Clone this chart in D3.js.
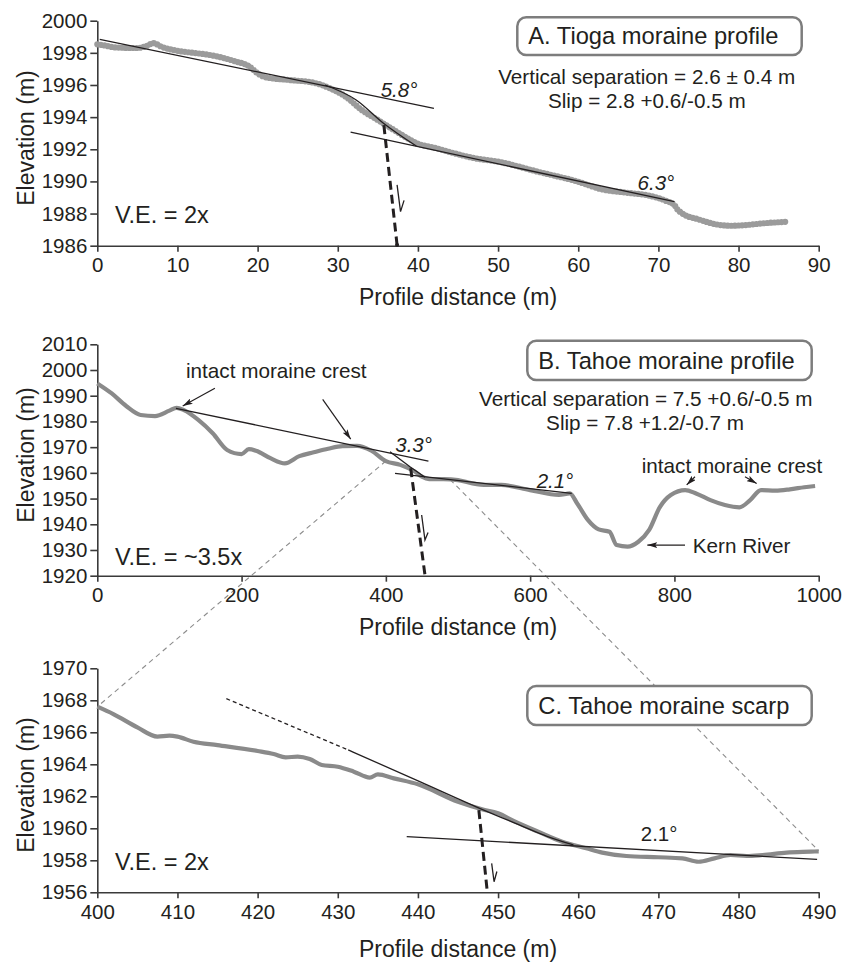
<!DOCTYPE html>
<html>
<head>
<meta charset="utf-8">
<script src="https://cdn.jsdelivr.net/npm/d3@7"></script>
<style>
    body { margin: 0; background: #fff; }
    svg { display: block; font-family: "Liberation Sans", Arial, Helvetica, sans-serif; }
    .axis path, .axis line { stroke: #3a3a3a; stroke-width: 1.6; fill: none; }
    .axis text { font-size: 20.5px; fill: #231f20; font-family: "Liberation Sans", Arial, sans-serif; }
    text { fill: #231f20; }
</style>
</head>
<body>
<div id="figure"></div>
<script>
/*
    三段断层崖地形剖面 (Tioga / Tahoe moraine)
 */

// ---- data: [distance (m), elevation (m)] ----
var tioga_profile = [[0,1998.53],[1,1998.45],[2,1998.35],[3,1998.32],[4,1998.3],[5,1998.3],[6,1998.4],[7,1998.6],
    [8,1998.38],[10,1998.13],[12,1998.0],[14,1997.87],[16,1997.65],[17,1997.5],[19,1997.14],[20,1996.73],
    [21,1996.48],[24,1996.31],[27,1996.14],[28,1996.0],[29,1995.8],[31,1995.27],[33,1994.44],[35,1993.82],
    [36,1993.51],[37,1993.2],[39,1992.6],[40,1992.35],[42,1992.1],[45,1991.69],[47,1991.45],[50,1991.23],
    [55,1990.6],[60,1989.98],[63,1989.5],[66,1989.3],[69,1989.1],[71,1988.78],[72,1988.53],[72.3,1988.3],
    [73,1988.0],[75,1987.64],[77,1987.35],[79,1987.24],[81,1987.29],[83,1987.39],[86,1987.49]];
var tioga_upper_fit = [[0.3,1998.84],[42,1994.55]];
var tioga_lower_fit = [[31.6,1993.06],[72,1988.74]];
var tioga_scarp_fit = [[28.4,1996.0],[32.3,1995.07],[35.7,1993.62],[39.8,1992.2]];
var tioga_fault = [[35.75,1993.5],[37.4,1986.04]];
var tioga_slip = [[37.4,1989.78],[37.83,1988.12],[38.27,1988.82]];

var tahoe_profile = [[0,1994.8],[20,1990.9],[40,1986.0],[60,1982.5],[80,1982.1],[100,1984.2],[110,1985.3],
    [120,1984.4],[140,1980.6],[160,1975.4],[180,1968.9],[200,1967.3],[210,1969.2],[220,1968.6],[240,1965.7],
    [260,1963.7],[280,1966.5],[300,1968.0],[320,1969.4],[340,1970.4],[360,1970.5],[380,1968.6],[400,1964.6],
    [420,1963.1],[440,1960.5],[450,1958.5],[460,1957.6],[480,1957.6],[500,1957.2],[520,1955.9],[540,1955.3],
    [560,1955.3],[600,1953.3],[640,1951.4],[655,1952],[665,1948.2],[680,1941.7],[695,1938],[710,1937.1],
    [720,1931.9],[735,1931.3],[750,1933.2],[765,1937.8],[780,1946.8],[795,1951.4],[815,1953.3],[830,1952],
    [850,1949.4],[870,1947.5],[890,1946.6],[905,1949.4],[920,1953.3],[940,1953.1],[960,1953.6],[980,1954.4],
    [995,1954.9]];
var tahoe_upper_fit = [[109,1985.1],[459,1964.6]];
var tahoe_lower_fit = [[412.7,1959.8],[657.6,1952]];
var tahoe_scarp_fit = [[405.7,1968.2],[433.4,1962.4],[454.3,1958.3]];
var tahoe_fault = [[434.4,1961.8],[454.2,1920.3]];
var tahoe_slip = [[449.6,1943.6],[454.2,1933.9],[458.5,1936.8]];
var tahoe_arrows = [
    [[163,1992.9],[118.4,1986.0]],
    [[312.4,1988.6],[351.3,1973.1]],
    [[828.5,1958.5],[817,1955.3]],
    [[897.8,1958.5],[914,1955.9]],
    [[814.7,1931.9],[762.4,1931.9]]
];

var scarp_profile = [[400,1967.6],[402,1967.14],[405,1966.31],[407.5,1965.73],[409,1965.79],[410,1965.73],
    [412,1965.41],[415,1965.2],[420,1964.83],[422,1964.64],[423.5,1964.43],[425,1964.48],[426.5,1964.33],
    [428,1963.96],[430,1963.85],[432,1963.54],[434,1963.17],[435,1963.37],[437,1963.12],[440,1962.75],
    [445,1961.66],[448,1961.19],[450,1960.94],[452,1960.45],[455,1959.79],[458,1959.16],[461,1958.75],
    [463,1958.48],[466,1958.27],[470,1958.19],[473,1958.12],[475,1957.91],[477,1958.12],[479,1958.33],
    [481,1958.27],[483,1958.33],[486,1958.48],[489,1958.54],[490,1958.56]];
var scarp_upper_dotted = [[416.1,1968.1],[431.3,1964.9]];
var scarp_upper_fit = [[431.3,1964.9],[440.3,1962.9],[447.7,1961.25],[452.7,1960.2],[456.1,1959.5],[459.4,1958.96]];
var scarp_lower_fit = [[438.6,1959.48],[489.8,1958.06]];
var scarp_fault = [[447.6,1961.14],[448.65,1956.04]];
var scarp_slip = [[449.2,1957.81],[449.5,1956.66],[449.85,1957.3]];

// zoom connector: point on profile B -> point on profile C
var zoom_links = [[[400,1964.6],[400,1967.6]], [[489,1957.4],[490,1958.6]]];

// ticks
var a_x_ticks = d3.range(0, 91, 10);
var a_y_ticks = d3.range(1986, 2001, 2);
var b_x_ticks = d3.range(0, 1001, 200);
var b_y_ticks = d3.range(1920, 2011, 10);
var c_x_ticks = d3.range(400, 491, 10);
var c_y_ticks = d3.range(1956, 1971, 2);

var svg_size = { 'width': 843, 'height': 965 };
var left_x = 97.3, right_x = 818.7;
var profile_color = '#8a8a8a';
var text_color = '#231f20';
var plain = d3.format('d');

var svg = d3.select('#figure')
    .append('svg')
    .attr('width', svg_size.width)
    .attr('height', svg_size.height);

svg.append('rect').attr('width', svg_size.width).attr('height', svg_size.height).style('fill', '#fff');

svg.append('defs').append('marker')
    .attr('id', 'arrow-head')
    .attr('viewBox', '0 0 10 6')
    .attr('refX', 10).attr('refY', 3)
    .attr('markerWidth', 10).attr('markerHeight', 6)
    .attr('markerUnits', 'userSpaceOnUse')
    .attr('orient', 'auto')
    .append('path')
    .attr('d', 'M0,0 L10,3 L0,6 L2,3 Z')
    .style('fill', text_color);

function make_panel(opt){
    var x = d3.scaleLinear().domain(opt.x_domain).range([left_x, right_x]);
    var y = d3.scaleLinear().domain(opt.y_domain).range([opt.bottom, opt.top]);

    svg.append('g')
        .classed('axis', true)
        .attr('transform', 'translate(0,' + opt.bottom + ')')
        .call(d3.axisBottom(x).tickValues(opt.x_ticks).tickFormat(plain)
            .tickSize(6).tickSizeOuter(0).tickPadding(6));

    svg.append('g')
        .classed('axis', true)
        .attr('transform', 'translate(' + left_x + ',0)')
        .call(d3.axisLeft(y).tickValues(opt.y_ticks).tickFormat(plain)
            .tickSize(7).tickSizeOuter(0).tickPadding(3));

    svg.append('text')
        .attr('x', (left_x + right_x) / 2)
        .attr('y', opt.x_title_y)
        .attr('text-anchor', 'middle')
        .style('font-size', '23px')
        .text('Profile distance (m)');

    svg.append('text')
        .attr('transform', 'translate(34,' + opt.y_title_y + ') rotate(-90)')
        .attr('text-anchor', 'middle')
        .style('font-size', '23px')
        .text('Elevation (m)');

    // title box
    svg.append('rect')
        .attr('x', opt.box[0]).attr('y', opt.box[1])
        .attr('width', opt.box[2] - opt.box[0]).attr('height', opt.box[3] - opt.box[1])
        .attr('rx', 9).attr('ry', 9)
        .style('fill', '#fff')
        .style('stroke', '#7d7d7d')
        .style('stroke-width', 2.5);
    svg.append('text')
        .attr('x', opt.box[0] + 11)
        .attr('y', opt.box[3] - 11.5)
        .style('font-size', '23.7px')
        .text(opt.title);

    svg.append('text')
        .attr('x', 115)
        .attr('y', opt.ve_y)
        .style('font-size', '23.5px')
        .text(opt.ve);

    (opt.notes || []).forEach(function(n){
        svg.append('text')
            .attr('x', n[0]).attr('y', n[1])
            .attr('text-anchor', 'middle')
            .style('font-size', '20.7px')
            .text(n[2]);
    });

    return {'x': x, 'y': y};
}

function line_gen(p, curve){
    return d3.line()
        .x(function(d){ return p.x(d[0]); })
        .y(function(d){ return p.y(d[1]); })
        .curve(curve || d3.curveLinear);
}

function draw_fit(p, data, dash, curve){
    svg.append('path')
        .attr('d', line_gen(p, curve)(data))
        .style('fill', 'none')
        .style('stroke', text_color)
        .style('stroke-width', 1.3)
        .style('stroke-dasharray', dash || null);
}

function draw_fault(p, data, slip){
    svg.append('path')
        .attr('d', line_gen(p)(data))
        .style('fill', 'none')
        .style('stroke', text_color)
        .style('stroke-width', 3)
        .style('stroke-dasharray', '9,5');
    // slip sense half arrow
    svg.append('path')
        .attr('d', line_gen(p)(slip))
        .style('fill', 'none')
        .style('stroke', text_color)
        .style('stroke-width', 1.3);
}

function draw_angle(p, d, e, label, italic){
    svg.append('text')
        .attr('x', p.x(d)).attr('y', p.y(e))
        .style('font-size', '20.5px')
        .style('font-style', italic ? 'italic' : 'normal')
        .text(label);
}

// ---- panel A ----
var pa = make_panel({
    'x_domain': [0, 90], 'y_domain': [1986, 2000], 'top': 20.7, 'bottom': 245.7,
    'x_ticks': a_x_ticks, 'y_ticks': a_y_ticks, 'x_title_y': 305, 'y_title_y': 138,
    'box': [517.3, 17.3, 801.7, 55], 'title': 'A. Tioga moraine profile',
    've': 'V.E. = 2x', 've_y': 222.5,
    'notes': [[646.7, 84, 'Vertical separation = 2.6 \u00b1 0.4 m'], [646.8, 108.3, 'Slip = 2.8 +0.6/-0.5 m']]
});

svg.append('path')
    .attr('d', line_gen(pa, d3.curveMonotoneX)(tioga_profile))
    .style('fill', 'none')
    .style('stroke', '#9b9b9b')
    .style('stroke-width', 6.2)
    .style('stroke-linecap', 'round')
    .style('stroke-dasharray', '0,3.6');

draw_fit(pa, tioga_upper_fit);
draw_fit(pa, tioga_lower_fit);
draw_fit(pa, tioga_scarp_fit, null, d3.curveMonotoneX);
draw_fault(pa, tioga_fault, tioga_slip);
svg.append('circle')
    .attr('cx', pa.x(tioga_fault[1][0])).attr('cy', pa.y(tioga_fault[1][1]))
    .attr('r', 2).style('fill', text_color);
draw_angle(pa, 35.35, 1995.23, '5.8\u00b0', true);
draw_angle(pa, 67.4, 1989.44, '6.3\u00b0', true);

// ---- panel B ----
var pb = make_panel({
    'x_domain': [0, 1000], 'y_domain': [1920, 2010], 'top': 344.3, 'bottom': 575.7,
    'x_ticks': b_x_ticks, 'y_ticks': b_y_ticks, 'x_title_y': 635, 'y_title_y': 455,
    'box': [527.3, 340.7, 811.7, 380], 'title': 'B. Tahoe moraine profile',
    've': 'V.E. = ~3.5x', 've_y': 564.5,
    'notes': [[645.8, 406, 'Vertical separation = 7.5 +0.6/-0.5 m'], [645, 430, 'Slip = 7.8 +1.2/-0.7 m']]
});

// ---- panel C ----
var pc = make_panel({
    'x_domain': [400, 490], 'y_domain': [1956, 1970], 'top': 668.3, 'bottom': 892.3,
    'x_ticks': c_x_ticks, 'y_ticks': c_y_ticks, 'x_title_y': 957, 'y_title_y': 785,
    'box': [527.3, 686, 811.7, 725], 'title': 'C. Tahoe moraine scarp',
    've': 'V.E. = 2x', 've_y': 870
});

// zoom connectors drawn under the profiles and the C title box
var link_g = svg.insert('g', ':nth-child(3)');
zoom_links.forEach(function(l){
    link_g.append('line')
        .attr('x1', pb.x(l[0][0])).attr('y1', pb.y(l[0][1]))
        .attr('x2', pc.x(l[1][0])).attr('y2', pc.y(l[1][1]))
        .style('stroke', '#8c8c8c')
        .style('stroke-width', 1.1)
        .style('stroke-dasharray', '5,4');
});

svg.append('path')
    .attr('d', line_gen(pb, d3.curveMonotoneX)(tahoe_profile))
    .style('fill', 'none')
    .style('stroke', profile_color)
    .style('stroke-width', 4.2)
    .style('stroke-linejoin', 'round');

draw_fit(pb, tahoe_upper_fit);
draw_fit(pb, tahoe_lower_fit);
draw_fit(pb, tahoe_scarp_fit);
draw_fault(pb, tahoe_fault, tahoe_slip);
draw_angle(pb, 413, 1968.1, '3.3\u00b0', true);
draw_angle(pb, 609, 1954.1, '2.1\u00b0', true);

tahoe_arrows.forEach(function(a){
    svg.append('line')
        .attr('x1', pb.x(a[0][0])).attr('y1', pb.y(a[0][1]))
        .attr('x2', pb.x(a[1][0])).attr('y2', pb.y(a[1][1]))
        .style('stroke', text_color)
        .style('stroke-width', 1.2)
        .attr('marker-end', 'url(#arrow-head)');
});

svg.append('text').attr('x', 186).attr('y', 378.3).style('font-size', '20.7px').text('intact moraine crest');
svg.append('text').attr('x', 641.7).attr('y', 472.7).style('font-size', '20.7px').text('intact moraine crest');
svg.append('text').attr('x', 692.7).attr('y', 553.3).style('font-size', '20.7px').text('Kern River');

// panel C marks
svg.append('path')
    .attr('d', line_gen(pc, d3.curveMonotoneX)(scarp_profile))
    .style('fill', 'none')
    .style('stroke', profile_color)
    .style('stroke-width', 4.2)
    .style('stroke-linejoin', 'round');

draw_fit(pc, scarp_upper_dotted, '4,3');
draw_fit(pc, scarp_upper_fit, null, d3.curveMonotoneX);
draw_fit(pc, scarp_lower_fit);
draw_fault(pc, scarp_fault, scarp_slip);
draw_angle(pc, 467.8, 1959.18, '2.1\u00b0', false);
</script>
</body>
</html>
